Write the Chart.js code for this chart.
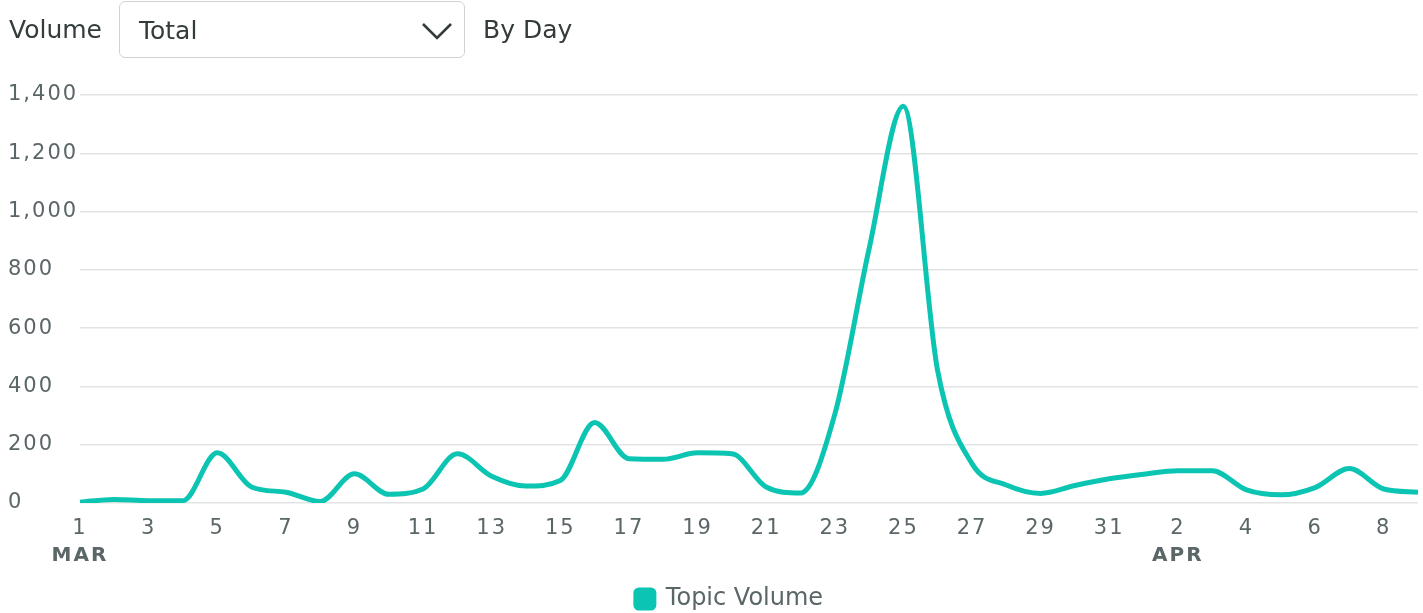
<!DOCTYPE html>
<html>
<head>
<meta charset="utf-8">
<script src="https://cdn.jsdelivr.net/npm/chart.js@4"></script>
<style>
	html, body { margin: 0; padding: 0; background: #fff; }
	body { width: 1423px; height: 613px; position: relative; overflow: hidden; font-family: "DejaVu Sans", sans-serif; }
	.header { position: absolute; left: 0; top: 0; height: 60px; width: 100%; color: #333b3b; font-size: 25px; }
	.header .lbl { position: absolute; top: 15px; }
	.select { position: absolute; left: 119px; top: 1px; width: 344px; height: 55px; border: 1px solid #cfd3d3; border-radius: 6px; }
	.select span { position: absolute; left: 19px; top: 14px; }
	.select svg { position: absolute; left: 300px; top: 18px; }
	#wrap { position: absolute; left: 0; top: 0; width: 1423px; height: 613px; }
</style>
</head>
<body>
<div id="wrap"><canvas id="volumeChart"></canvas></div>
<div class="header">
	<span class="lbl" style="left:9px">Volume</span>
	<div class="select">
		<span>Total</span>
		<svg width="34" height="22" viewBox="0 0 34 22"><polyline points="3,4 17,18 31,4" fill="none" stroke="#333b3b" stroke-width="2.6"/></svg>
	</div>
	<span class="lbl" style="left:483px">By Day</span>
</div>
<script>
// day labels, Mar 1 .. Apr 9
const days = [
	'1', '2', '3', '4', '5', '6', '7', '8', '9', '10',
	'11', '12', '13', '14', '15', '16', '17', '18', '19', '20',
	'21', '22', '23', '24', '25', '26', '27', '28', '29', '30', '31',
	'1', '2', '3', '4', '5', '6', '7', '8', '9',
];
const months = { 0: 'MAR', 32: 'APR' };
const topicVolume = [
	3, 12, 8, 8, 172, 55, 37, 5, 100, 30,
	48, 169, 92, 58, 77, 276, 152, 150, 172, 169,
	55, 34, 304, 872, 1361, 453, 135, 62, 33, 60, 83,
	99, 111, 111, 45, 28, 53, 118, 48, 37,
];
const yTicks = [0, 200, 400, 600, 800, 1000, 1200, 1400];

const teal = '#0cc4b2';
const tickColor = '#5b6668';

// tick labels are letter-spaced in the original
const spacedTicks = {
	id: 'spacedTicks',
	afterLayout(chart) {
		// legend sits a bit lower and to the right of where chart.js puts it
		chart.legend.top += 8;
		chart.legend.bottom += 8;
		chart.legend.left += 14;
		chart.legend.right += 14;
	},
	beforeDraw(chart) {
		if (chart._spaced) return;
		chart._spaced = true;
		Object.values(chart.scales).forEach((scale) => {
			const orig = scale.drawLabels.bind(scale);
			scale.drawLabels = function (area) {
				const ctx = this.ctx;
				ctx.save();
				ctx.letterSpacing = '2px';
				orig(area);
				ctx.restore();
			};
		});
	},
};

// fixed heights, and keep the plot running out to the right edge
const fitX = (h) => (scale) => {
	scale.paddingRight = 5;
	scale.paddingLeft = 0;
	scale.height = h;
};

window.addEventListener('DOMContentLoaded', () => {
	const ctx = document.getElementById('volumeChart').getContext('2d');
	const volumeChart = new Chart(ctx, {
		type: 'line',
		data: {
			labels: days,
			datasets: [{
				label: 'Topic Volume',
				data: topicVolume,
				borderColor: teal,
				backgroundColor: teal,
				borderWidth: 5,
				pointRadius: 0,
				cubicInterpolationMode: 'monotone',
				fill: false,
			}],
		},
		options: {
			responsive: true,
			maintainAspectRatio: false,
			animation: false,
			layout: {
				padding: { top: 95, left: 8, right: 0, bottom: 0 },
			},
			scales: {
				x: {
					grid: { display: false, drawTicks: false },
					border: { display: false },
					afterFit: fitX(38),
					ticks: {
						autoSkip: false,
						maxRotation: 0,
						padding: 13,
						color: tickColor,
						font: { family: 'DejaVu Sans', size: 21 },
						callback: (v, i) => (i % 2 === 0 ? days[i] : ''),
					},
				},
				m: {
					type: 'category',
					position: 'bottom',
					labels: days,
					grid: { display: false, drawTicks: false },
					border: { display: false },
					afterFit: fitX(34),
					ticks: {
						autoSkip: false,
						maxRotation: 0,
						padding: 3,
						color: tickColor,
						font: { family: 'DejaVu Sans', size: 20, weight: 'bold' },
						callback: (v, i) => months[i] || '',
					},
				},
				y: {
					min: 0,
					max: 1400,
					afterBuildTicks: (scale) => {
						scale.ticks = yTicks.map((v) => ({ value: v }));
					},
					afterFit: (scale) => {
						scale.width = 72;
					},
					grid: { color: '#e1e4e4', lineWidth: 1.5, drawTicks: false },
					border: { display: false },
					ticks: {
						crossAlign: 'far',
						padding: 4,
						color: tickColor,
						font: { family: 'DejaVu Sans', size: 21 },
						callback: (v) => v.toLocaleString('en-US'),
					},
				},
			},
			plugins: {
				legend: {
					position: 'bottom',
					labels: {
						color: tickColor,
						boxWidth: 18,
						boxHeight: 18,
						useBorderRadius: true,
						borderRadius: 3,
						padding: 4,
						font: { family: 'DejaVu Sans', size: 24 },
					},
				},
				tooltip: { enabled: false },
			},
		},
		plugins: [spacedTicks],
	});
});
</script>
</body>
</html>
